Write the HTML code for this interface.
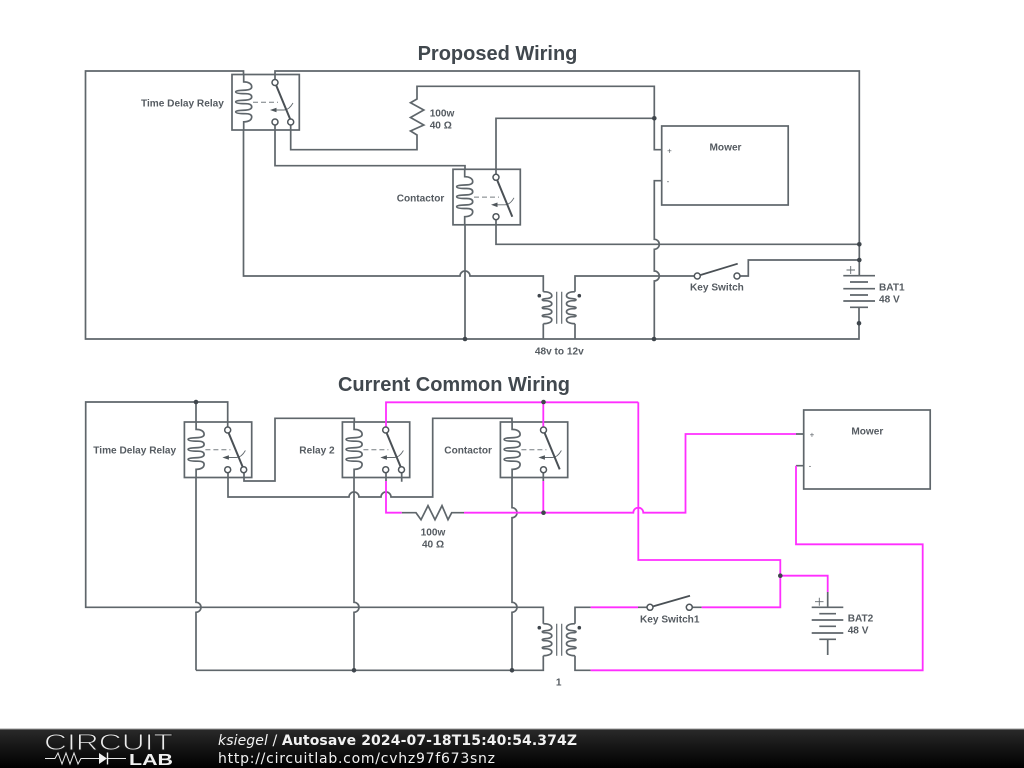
<!DOCTYPE html>
<html><head><meta charset="utf-8"><style>
html,body{margin:0;padding:0;background:#fff;width:1024px;height:768px;overflow:hidden}
svg{display:block}
.w{fill:none;stroke:#5f666b;stroke-width:1.7}
.p{fill:none;stroke:#ff2eff;stroke-width:1.8}
.n{fill:none;stroke:#62696e;stroke-width:0.9}
.t{font-family:"Liberation Sans",sans-serif;font-weight:bold;font-size:10.1px;fill:#555b61}
.h{font-family:"Liberation Sans",sans-serif;font-weight:bold;font-size:20px;fill:#41484e;text-anchor:middle}
.c{fill:#fff;stroke:#4f565b;stroke-width:1.5}
.d{fill:#3f464c}
.f{font-family:"DejaVu Sans",sans-serif;font-size:14px;fill:#f2f2f2}
</style></head><body>
<svg width="1024" height="768" viewBox="0 0 1024 768" xmlns="http://www.w3.org/2000/svg">
<defs>
<linearGradient id="bar" x1="0" y1="0" x2="0" y2="1"><stop offset="0" stop-color="#2a2a2a"/><stop offset="0.5" stop-color="#141414"/><stop offset="1" stop-color="#000"/></linearGradient>
<g id="relay">
<rect class="w" x="0" y="0" width="67.3" height="55.5"/>
<path class="w" d="M11.7,0V7.4C16.7,7.4 19.7,9.4 19.7,12.4C19.7,14.9 16.7,15.4 13.7,15.6C8.7,15.9 3.7,15.9 3.7,17.4C3.7,18.9 8.7,19.2 13.7,19.2C16.7,19.2 19.7,19.9 19.7,22.4C19.7,24.9 16.7,25.4 13.7,25.6C8.7,25.9 3.7,25.9 3.7,27.4C3.7,28.9 8.7,29.2 13.7,29.2C16.7,29.2 19.7,29.9 19.7,32.4C19.7,34.9 16.7,35.4 13.7,35.6C8.7,35.9 3.7,35.9 3.7,37.4C3.7,38.9 8.7,39.2 13.7,39.2C16.7,39.2 19.7,39.9 19.7,42.4C19.7,45.4 16.7,47.4 11.7,47.4V55.5"/>
<path d="M21,27.8H46" fill="none" stroke="#777d81" stroke-width="1" stroke-dasharray="5,3"/>
<path d="M42,35.5H52C56,35.5 59,32 61,28.5" fill="none" stroke="#62696e" stroke-width="0.9"/>
<path d="M38,35.5L44.5,33.2V37.8Z" fill="#4f565b"/>
<path d="M43,8L59.3,47.4" fill="none" stroke="#4a5055" stroke-width="2"/>
</g>
<path id="xc" class="w" d="M0,0C5,0 8.5,1.5 8.5,4C8.5,6 5,6.8 2,7C0,7.2 -1,7.4 -1,8C-1,8.6 0,9 2,9C5,9 8.5,10 8.5,12C8.5,14 5,14.8 2,15C0,15.2 -1,15.4 -1,16C-1,16.6 0,17 2,17C5,17 8.5,18 8.5,20C8.5,22 5,22.8 2,23C0,23.2 -1,23.4 -1,24C-1,24.6 0,25 2,25C5,25 8.5,26 8.5,28C8.5,30.5 5,32 0,32"/>
<g id="xf">
<use href="#xc"/>
<use href="#xc" transform="translate(31.7,0) scale(-1,1)"/>
<path d="M13.4,0V32M18.4,0V32" fill="none" stroke="#62696e" stroke-width="1.2"/>
<circle cx="-4" cy="4" r="1.8" class="d"/><circle cx="36" cy="4" r="1.8" class="d"/>
</g>
</defs>
<rect width="1024" height="768" fill="#fff"/>

<text class="h" x="497.5" y="60">Proposed Wiring</text>
<text class="h" x="454" y="391">Current Common Wiring</text>

<!-- TOP CIRCUIT -->
<path class="w" d="M243.5,74.5V71H85.5V339H859V307.3M275,82.5V71H859.3V275.7"/>
<path class="w" d="M243.5,130V276H460a5,5 0 0 1 10,0H543.3V291.7M543.3,323.7V339M575,323.7V339M575,291.7V276H697.3"/>
<path class="w" d="M275,122V165.7H465V169.3M290.7,122V149.7H417V135L410.5,131 423.8,125 410.5,117.5 423.8,110 410.5,102.7 417,99V86.3H654.3V149.7H661.7"/>
<path class="w" d="M496,177V118.3H654.3M496,216.7V244.3H859.3M465,224.7V339M661.7,180.7H654.3V239.3a5,5 0 0 1 0,10V271a5,5 0 0 1 0,10V339"/>
<path class="w" d="M737,276H748.3V260H859.3"/>
<use href="#relay" x="232" y="74.5"/>
<use href="#relay" x="453" y="169.3"/>
<use href="#xf" x="543.3" y="291.7"/>
<rect class="w" x="661.7" y="126" width="126.5" height="79"/>
<path d="M697.3,276L737.7,263.7" fill="none" stroke="#4a5055" stroke-width="1.8"/>
<path class="w" d="M843.3,275.7H875M850,282H868M843.3,288.7H875M850,295H868M843.3,301H875M850,307.3H868"/>
<path class="n" d="M846.5,270H855M850.7,266V274"/>
<g class="d">
<circle cx="654.3" cy="118.3" r="2.3"/><circle cx="859.3" cy="244.3" r="2.3"/><circle cx="859.3" cy="260" r="2.3"/>
<circle cx="859" cy="323.3" r="2.3"/><circle cx="654" cy="339" r="2.3"/><circle cx="465" cy="339" r="2.3"/>
</g>
<g>
<circle class="c" cx="275" cy="82.5" r="3"/><circle class="c" cx="275" cy="122" r="3"/><circle class="c" cx="290.7" cy="122" r="3"/>
<circle class="c" cx="496" cy="177.3" r="3"/><circle class="c" cx="496" cy="216.7" r="3"/>
<circle class="c" cx="697.3" cy="276" r="3"/><circle class="c" cx="737" cy="276" r="3"/>
</g>
<text class="t" x="141" y="106.7">Time Delay Relay</text>
<text class="t" x="429.7" y="116.7">100w</text>
<text class="t" x="429.7" y="128.7">40 Ω</text>
<text class="t" x="396.7" y="201.4">Contactor</text>
<text class="t" x="725.5" y="150.5" text-anchor="middle">Mower</text>
<text class="t" x="669.5" y="153.5" text-anchor="middle" style="font-size:8px;font-weight:normal">+</text>
<text class="t" x="668" y="184" text-anchor="middle" style="font-size:8px;font-weight:normal">-</text>
<text class="t" x="690" y="290.7">Key Switch</text>
<text class="t" x="879" y="290.4">BAT1</text>
<text class="t" x="879" y="302.4">48 V</text>
<text class="t" x="559.3" y="354.4" text-anchor="middle">48v to 12v</text>

<!-- BOTTOM CIRCUIT -->
<path class="w" d="M227.7,428V402H85.7V607.3H543.3V623.7M543.3,655.7V670.3H196M196,402V422M196,477V602.3a5,5 0 0 1 0,10V670.3M354,477V602.3a5,5 0 0 1 0,10V670.3M512,477V507.7a5,5 0 0 1 0,10V602.3a5,5 0 0 1 0,10V670.3"/>
<path class="w" d="M244,473V481H275V418.3H354.3V422M228,473V497H349a5,5 0 0 1 10,0H381a5,5 0 0 1 10,0H432.7V418.3H512V422"/>
<path class="w" d="M575,623.7V607.3H590.7M575,655.7V670.3H590.7M638,607.3H650M689.3,607.3H701.7"/>
<path class="w" d="M401.7,512.7H416L421,519.7 428,505.7 435,519.7 442,505.7 448,519.7 451.7,512.7H464M386,473V481M543.3,473V481M401.7,473V481.7M803.7,434H796M803.7,465.7H796"/>
<path class="w" d="M827.7,592V607.3M811.7,607.3H843.3M819.3,613.7H836M811.7,620H843.3M819.3,626.3H836M811.7,633H843.3M819.3,639.3H836M827.7,639.3V655"/>
<path class="n" d="M815,601.7H823.5M819.3,597.7V605.7"/>
<use href="#relay" x="184.4" y="422"/>
<use href="#relay" x="342.4" y="422"/>
<use href="#relay" x="500.4" y="422"/>
<use href="#xf" x="543.3" y="623.7"/>
<rect class="w" x="803.7" y="410" width="126.5" height="79"/>
<path d="M650,607.3L690,595.7" fill="none" stroke="#4a5055" stroke-width="1.8"/>
<path class="p" d="M386,427V402.3H638.3M543.3,402.3V428M386,481V512.7H401.7M543.3,481V512.7M464,512.7H633.3a5,5 0 0 1 10,0H685.5V434H796M638.3,402.3V560H780.3V607.3H701.7M780.3,575.7H827.7V592M590.7,607.3H638M590.7,670.3H922.7V544.3H796V465.7"/>
<g class="d">
<circle cx="196" cy="402" r="2.3"/><circle cx="543.5" cy="402" r="2.3"/><circle cx="543.5" cy="512.7" r="2.3"/>
<circle cx="780.3" cy="575.7" r="2.3"/><circle cx="354" cy="670.3" r="2.3"/><circle cx="512" cy="670.3" r="2.3"/>
</g>
<g>
<circle class="c" cx="227.7" cy="430" r="3"/><circle class="c" cx="227.7" cy="469.7" r="3"/><circle class="c" cx="243.7" cy="469.7" r="3"/>
<circle class="c" cx="385.7" cy="430" r="3"/><circle class="c" cx="385.7" cy="469.7" r="3"/><circle class="c" cx="401.5" cy="469.7" r="3"/>
<circle class="c" cx="543.5" cy="430" r="3"/><circle class="c" cx="543.5" cy="469.7" r="3"/>
<circle class="c" cx="650" cy="607.3" r="3"/><circle class="c" cx="689.3" cy="607.3" r="3"/>
</g>
<text class="t" x="93.3" y="453.7">Time Delay Relay</text>
<text class="t" x="299.3" y="453.7">Relay 2</text>
<text class="t" x="444.3" y="453.7">Contactor</text>
<text class="t" x="433" y="535.4" text-anchor="middle">100w</text>
<text class="t" x="433" y="547.4" text-anchor="middle">40 Ω</text>
<text class="t" x="867.3" y="434.7" text-anchor="middle">Mower</text>
<text class="t" x="812" y="437.5" text-anchor="middle" style="font-size:8px;font-weight:normal">+</text>
<text class="t" x="810" y="468.5" text-anchor="middle" style="font-size:8px;font-weight:normal">-</text>
<text class="t" x="640" y="622.4">Key Switch1</text>
<text class="t" x="847.7" y="621.7">BAT2</text>
<text class="t" x="847.7" y="633.7">48 V</text>
<text class="t" x="558.7" y="685.4" text-anchor="middle">1</text>

<!-- FOOTER -->
<rect x="0" y="729" width="1024" height="39" fill="url(#bar)"/>
<rect x="0" y="728.5" width="1024" height="1" fill="#9a9a9a"/>
<text x="44" y="750" textLength="129" lengthAdjust="spacingAndGlyphs" style="font-family:'Liberation Sans',sans-serif;font-size:23px;fill:#ececec;stroke:#1c1c1c;stroke-width:0.9">CIRCUIT</text>
<text x="129" y="765" textLength="44" lengthAdjust="spacingAndGlyphs" style="font-family:'Liberation Sans',sans-serif;font-weight:bold;font-size:16px;fill:#f0f0f0">LAB</text>
<path d="M45,758.5H55L58,753 62,764 66,753 70,764 74,753 78,764 81,758.5H99M107,758.5H126" fill="none" stroke="#e8e8e8" stroke-width="1"/>
<path d="M99,753V764L107,758.5Z" fill="#f0f0f0"/><path d="M107.5,752.5V764.5" stroke="#f0f0f0" stroke-width="1.4"/>
<text class="f" x="218" y="745" textLength="359" lengthAdjust="spacing"><tspan font-style="italic">ksiegel</tspan> / <tspan font-weight="bold">Autosave 2024-07-18T15:40:54.374Z</tspan></text>
<text class="f" x="218" y="763" textLength="277" lengthAdjust="spacing">http://circuitlab.com/cvhz97f673snz</text>
</svg>
</body></html>
